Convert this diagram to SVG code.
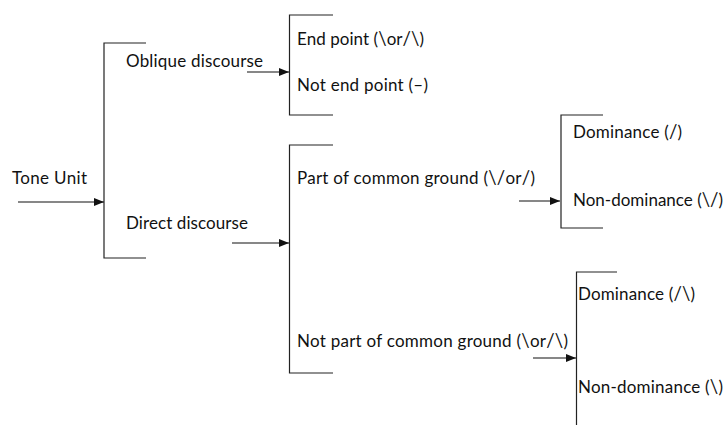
<svg xmlns="http://www.w3.org/2000/svg" width="726" height="425" viewBox="0 0 726 425">
  <style>
    text { font-family: Lato, "Open Sans", "Liberation Sans", sans-serif; font-size: 17px; fill: #111; }
    .sl { font-size: 18.5px; }
    .br { fill: none; stroke: #222; stroke-width: 1.2; }
    .ar { fill: none; stroke: #111; stroke-width: 1.2; marker-end: url(#head); }
  </style>
  <defs>
    <marker id="head" viewBox="0 0 10 10" refX="10" refY="5" markerWidth="10" markerHeight="10" markerUnits="userSpaceOnUse" orient="auto">
      <path d="M0,1 L10,5 L0,9 Z" fill="#111"/>
    </marker>
  </defs>

  <rect width="726" height="425" fill="#fff"/>

  <!-- connectors -->
  <g id="connectors">
    <line class="ar" x1="18" y1="202" x2="104" y2="202"/>
    <line class="ar" x1="247" y1="72" x2="289" y2="72"/>
    <line class="ar" x1="232" y1="243" x2="289" y2="243"/>
    <line class="ar" x1="519" y1="201" x2="560" y2="201"/>
    <line class="ar" x1="533" y1="358" x2="576" y2="358"/>
  </g>

  <!-- root -->
  <g id="tone-unit">
    <text x="12" y="184" textLength="75">Tone Unit</text>
  </g>

  <!-- discourse type -->
  <g id="discourse">
    <path class="br" d="M146,43 H104 V258 H146"/>
    <text x="126" y="67" textLength="137">Oblique discourse</text>
    <text x="126" y="229" textLength="122">Direct discourse</text>
  </g>

  <!-- oblique branch -->
  <g id="oblique">
    <path class="br" d="M333,15 H289.5 V115 H333"/>
    <text x="297" y="45" textLength="127">End point (<tspan class="sl">\</tspan>or<tspan class="sl">/\</tspan>)</text>
    <text x="297" y="91" textLength="131">Not end point (–)</text>
  </g>

  <!-- direct branch -->
  <g id="direct">
    <path class="br" d="M333,145 H289.5 V373 H333"/>
    <text x="297" y="184" textLength="238">Part of common ground (<tspan class="sl">\/</tspan>or<tspan class="sl">/</tspan>)</text>
    <text x="297" y="347" textLength="271">Not part of common ground (<tspan class="sl">\</tspan>or<tspan class="sl">/\</tspan>)</text>
  </g>

  <!-- common ground -->
  <g id="common-ground">
    <path class="br" d="M603,115 H561 V228 H603"/>
    <text x="573" y="138" textLength="109">Dominance (<tspan class="sl">/</tspan>)</text>
    <text x="573" y="206" textLength="150">Non-dominance (<tspan class="sl">\/</tspan>)</text>
  </g>

  <!-- not common ground -->
  <g id="not-common-ground">
    <path class="br" d="M617,272 H576.5 V425"/>
    <text x="578" y="300" textLength="117">Dominance (<tspan class="sl">/\</tspan>)</text>
    <text x="578" y="393" textLength="145">Non-dominance (<tspan class="sl">\</tspan>)</text>
  </g>
</svg>
